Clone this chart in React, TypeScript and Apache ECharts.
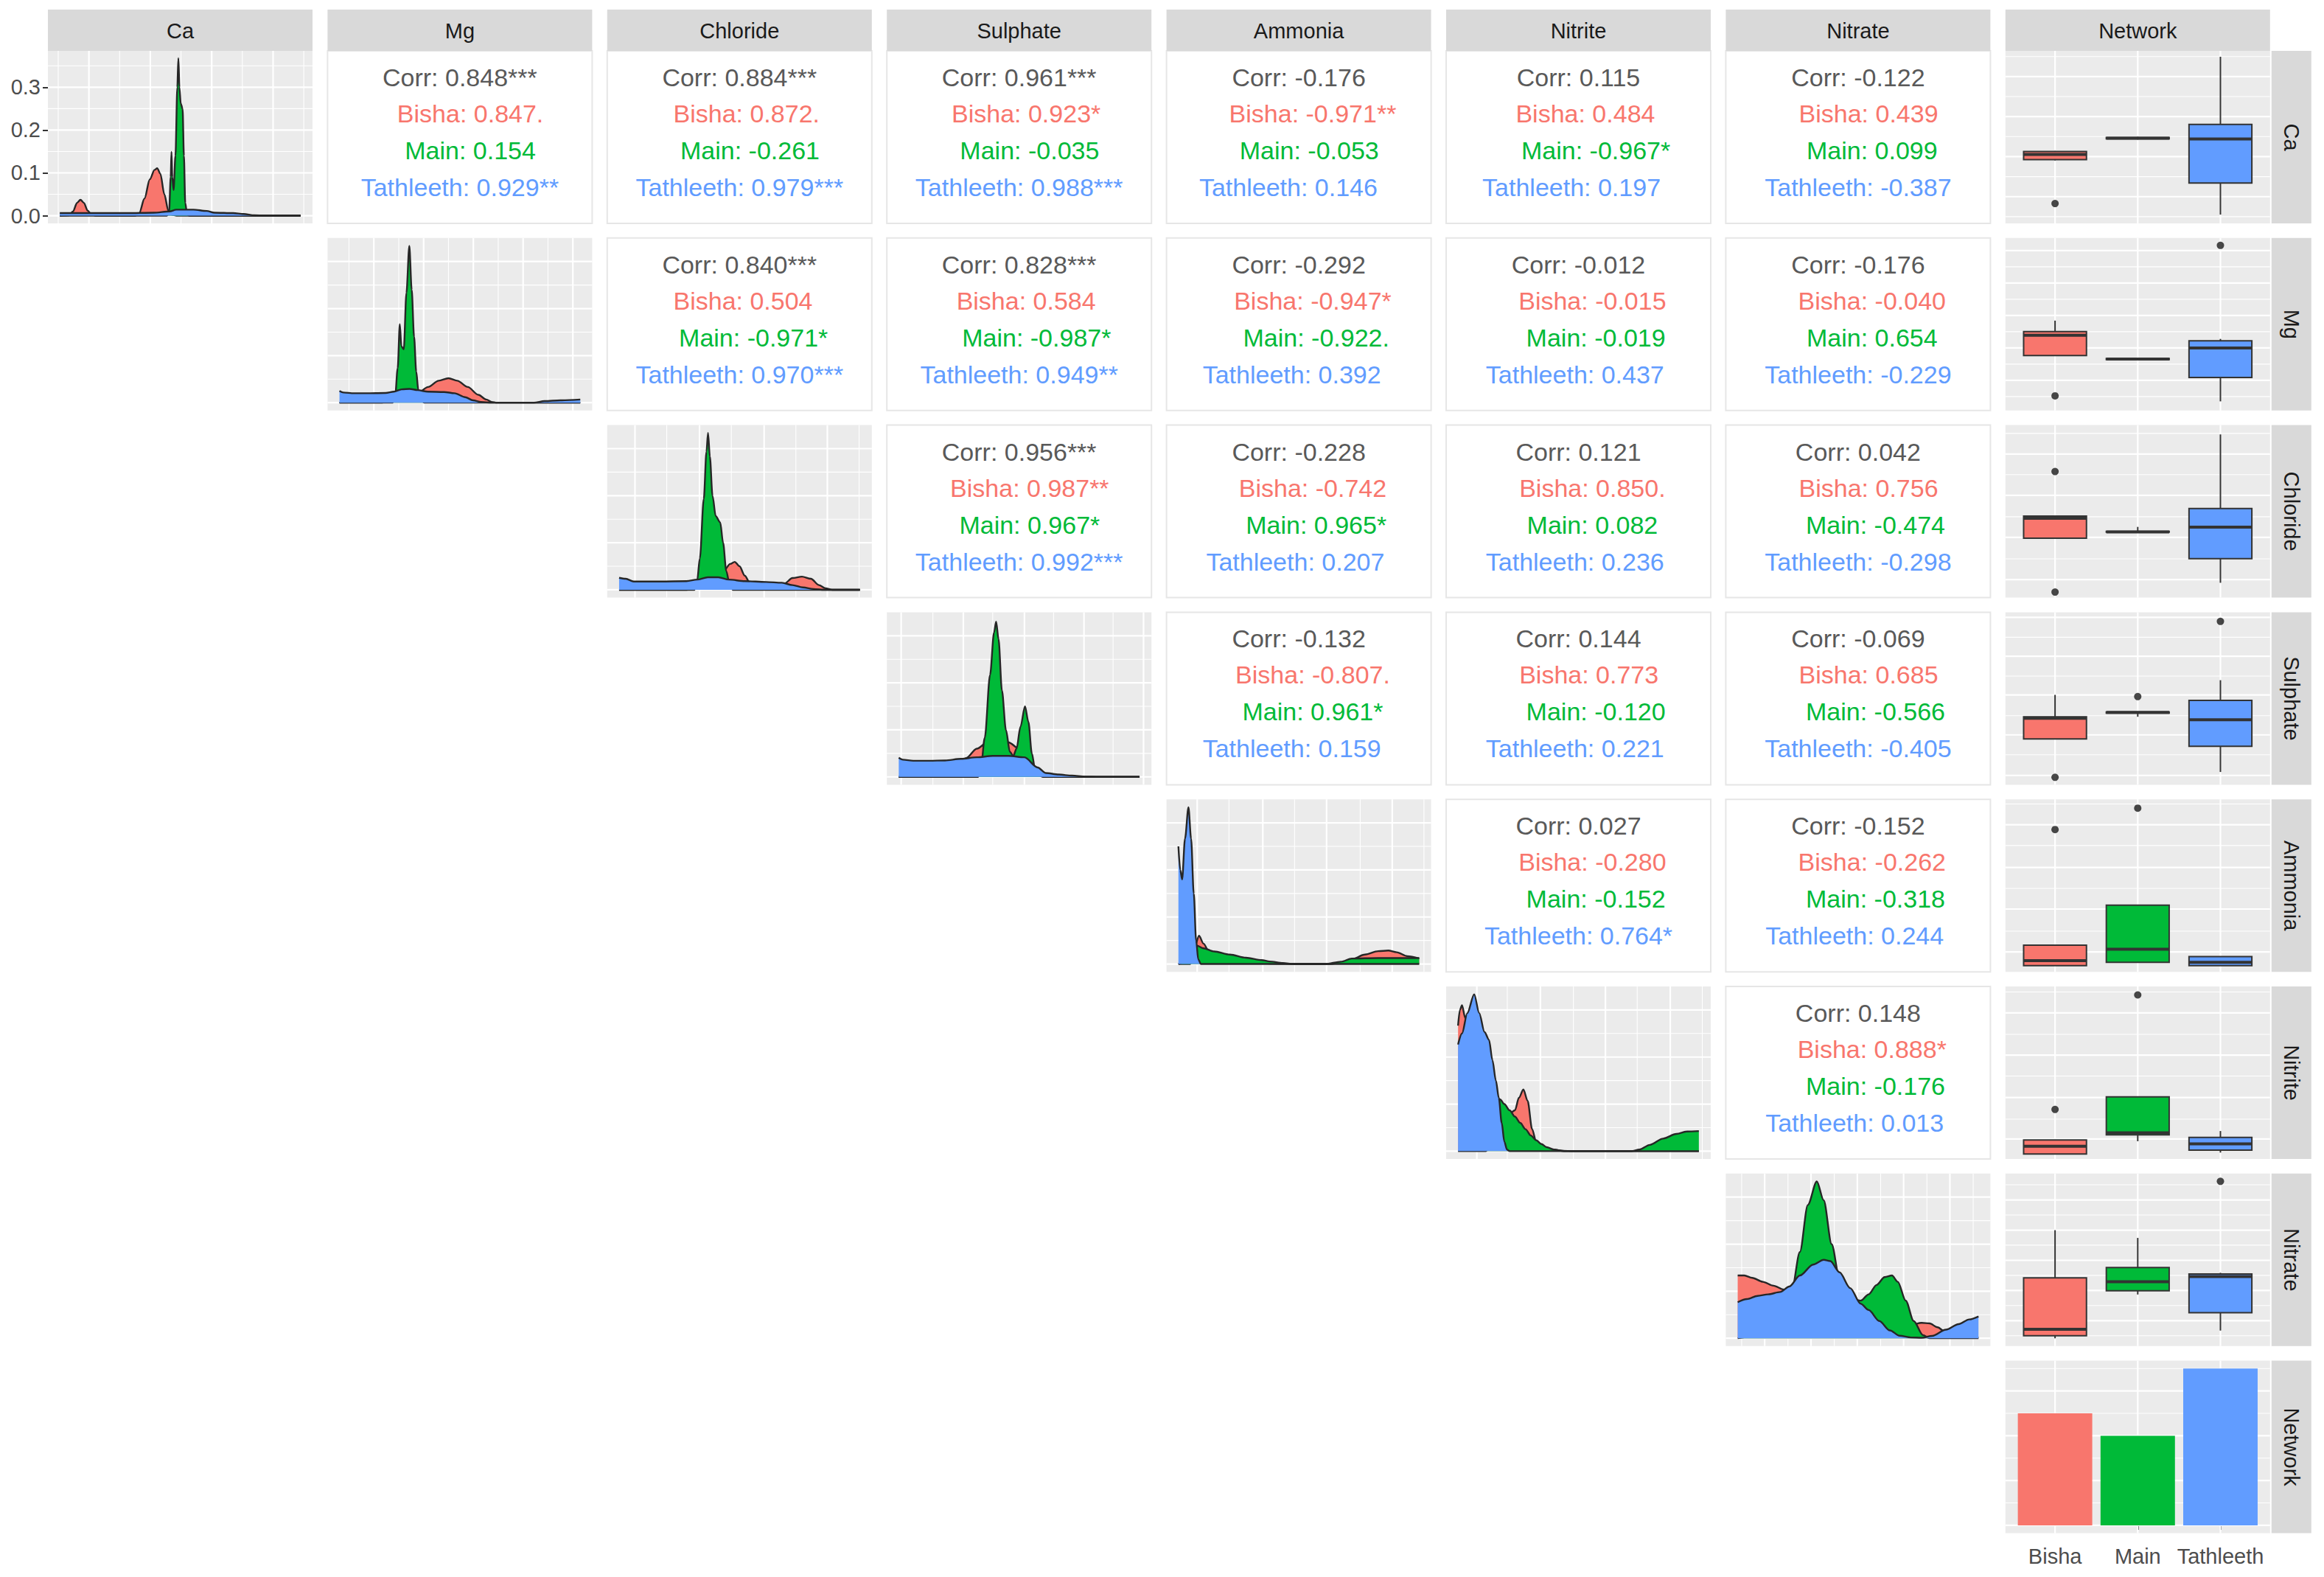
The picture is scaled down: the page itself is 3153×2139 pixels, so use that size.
import React, { useEffect, useRef } from "react";
import * as echarts from "echarts";

// ---------------- DATA ----------------
const variables = ["Ca", "Mg", "Chloride", "Sulphate", "Ammonia", "Nitrite", "Nitrate"];
const networkLabel = "Network";
const groups = ["Bisha", "Main", "Tathleeth"];
const groupColors = ["#F8766D", "#00BA38", "#619CFF"];
const groupCounts = [5, 4, 7];
const countTicks = { major: [0, 2, 4, 6], minor: [1, 3, 5, 7] };
const caDensityTicks = [0, 0.1, 0.2, 0.3];
const caDensityMinor = [0.05, 0.15, 0.25, 0.35];

// correlation labels: [overall, Bisha, Main, Tathleeth]; one list per row, columns to the right
const corrCa = [
  ["0.848***", "0.847.", "0.154", "0.929**"],
  ["0.884***", "0.872.", "-0.261", "0.979***"],
  ["0.961***", "0.923*", "-0.035", "0.988***"],
  ["-0.176", "-0.971**", "-0.053", "0.146"],
  ["0.115", "0.484", "-0.967*", "0.197"],
  ["-0.122", "0.439", "0.099", "-0.387"],
];
const corrMg = [
  ["0.840***", "0.504", "-0.971*", "0.970***"],
  ["0.828***", "0.584", "-0.987*", "0.949**"],
  ["-0.292", "-0.947*", "-0.922.", "0.392"],
  ["-0.012", "-0.015", "-0.019", "0.437"],
  ["-0.176", "-0.040", "0.654", "-0.229"],
];
const corrChloride = [
  ["0.956***", "0.987**", "0.967*", "0.992***"],
  ["-0.228", "-0.742", "0.965*", "0.207"],
  ["0.121", "0.850.", "0.082", "0.236"],
  ["0.042", "0.756", "-0.474", "-0.298"],
];
const corrSulphate = [
  ["-0.132", "-0.807.", "0.961*", "0.159"],
  ["0.144", "0.773", "-0.120", "0.221"],
  ["-0.069", "0.685", "-0.566", "-0.405"],
];
const corrAmmonia = [
  ["0.027", "-0.280", "-0.152", "0.764*"],
  ["-0.152", "-0.262", "-0.318", "0.244"],
];
const corrNitrite = [["0.148", "0.888*", "-0.176", "0.013"]];
const corrRows = [corrCa, corrMg, corrChloride, corrSulphate, corrAmmonia, corrNitrite];

// densities (x: % of variable range on panel, y: Ca in density units, others relative 0..100)
const densCaBisha = [[4.5,0],[8,0.001],[9.5,0.01],[11,0.03],[12.3,0.037],[13.6,0.03],[15,0.012],[16.5,0.002],[18,0],[33,0],[34.5,0.006],[36.5,0.04],[38.5,0.085],[40.3,0.107],[41.3,0.111],[42.5,0.098],[44,0.05],[45.5,0.012],[47,0.002],[49,0],[95.5,0]];
const densCaMain = [[4.5,0],[45,0],[45.8,0.01],[46.4,0.09],[46.7,0.149],[47.0,0.09],[47.5,0.06],[48.2,0.14],[48.9,0.3],[49.3,0.368],[49.7,0.3],[50.2,0.262],[50.9,0.25],[51.4,0.14],[51.9,0.03],[52.6,0.003],[53.5,0],[95.5,0]];
const densCaTathleeth = [[4.5,0.006],[15,0.006],[30,0.006],[40,0.007],[46,0.01],[48.5,0.014],[55,0.014],[60,0.011],[63,0.007],[70,0.006],[74,0.004],[78,0.001],[82,0],[95.5,0]];

const densMgBisha = [[4.5,0],[20,0],[26,1],[30,3],[34,6],[38,10],[42,14],[45.7,15.6],[49,14],[53,10],[57,5],[60,2],[62,0.5],[64,0],[95.5,0]];
const densMgMain = [[4.5,0],[24.5,0],[25.5,3],[26.5,22],[27.3,50],[27.9,36],[28.8,34],[29.8,70],[30.9,100],[31.8,72],[32.7,42],[33.5,20],[34.3,8],[35.3,2],[36.5,0],[95.5,0]];
const densMgTathleeth = [[4.5,7.5],[6,6.5],[10,6],[16,6],[22,6.2],[25,7],[28,8.5],[31,8.8],[34,8],[38,7],[44,6.8],[48,6],[52,3.5],[55,1.5],[58,0.4],[62,0],[78,0],[82,1],[88,1.5],[95.5,2]];

const densChlorideBisha = [[4.5,0],[30,0],[36,2],[40,6],[44,12],[46.5,16.5],[48.2,17.8],[50,15],[52,9],[54,4],[56,1.5],[60,0.5],[64,1],[67,4],[70,7.5],[73.6,8.4],[77,7],[80,3],[82.5,1],[85,0],[95.5,0]];
const densChlorideMain = [[4.5,0],[33,0],[34,6],[35,20],[36.5,58],[37.5,88],[38.1,100],[38.8,85],[39.8,60],[41,47],[42.7,43],[43.8,30],[45,12],[46.3,3],[47.5,0],[95.5,0]];
const densChlorideTathleeth = [[4.5,7.6],[7,7],[10,5.3],[20,5.3],[30,5.5],[34,6.5],[38,8],[42,8],[46,6.5],[52,5.5],[60,5],[66,4.5],[70,3],[74,1.5],[78,0.5],[82,0],[95.5,0]];

const densSulphateBisha = [[4.5,0],[18,0],[22,1.5],[26,6],[30,12],[34,18],[38,22],[42,23],[46,22],[50,18],[53,12],[56,5],[58.5,1.5],[61,0],[95.5,0]];
const densSulphateMain = [[4.5,0],[34.5,0],[35.5,5],[37,25],[39,65],[40.5,92],[41.3,99],[42.2,88],[43.5,55],[45,30],[46.5,16],[47.8,13.4],[49,18],[50.5,32],[52.2,45],[53.5,35],[54.8,15],[56,5],[57.5,1],[59,0],[95.5,0]];
const densSulphateTathleeth = [[4.5,12.2],[6,11],[10,10.3],[16,10.3],[22,10.5],[28,11.5],[34,12.5],[40,13.4],[46,13.4],[52,12.5],[57,6],[60,2.5],[65,1.5],[70,0.8],[75,0.2],[80,0],[95.5,0]];

const densAmmoniaBisha = [[4.5,0],[9,0],[10.5,10],[12.3,18],[14,13],[16,8],[18,5],[22,3],[30,1],[40,0.3],[50,0],[62,0],[66,1],[70,3],[75,6],[80,8.2],[83.8,8.6],[87,7.5],[91,5],[95.5,3.5]];
const densAmmoniaMain = [[4.5,0],[9,2],[11.5,11.7],[14,10],[18,8],[24,6],[30,4],[36,2.5],[39,1.6],[44,0.6],[48,0],[60,0],[66,1.5],[70,3.5],[80,3.8],[90,3.8],[95.5,3.8]];
const densAmmoniaTathleeth = [[4.5,75],[5.2,60],[5.9,54],[7,80],[8.3,100],[9.3,80],[10.3,45],[11.2,15],[12,3],[13,0],[95.5,0]];

const densNitriteBisha = [[4.5,80],[5.2,90],[6,93],[7.2,85],[8.5,70],[10,60],[13,50],[16,40],[19,33],[21.5,28],[24,24],[26,26],[27.5,34],[29.2,39.3],[30.8,32],[32.5,14],[34,6],[36,3],[40,1],[45,0],[95.5,0]];
const densNitriteMain = [[4.5,0],[15,0],[18,10],[20.4,33],[22,30],[24,26],[26,22],[28,18],[30,14],[32,10],[34,7],[36,4.5],[38,2.5],[40.7,1],[44,0.2],[48,0],[70,0],[73,1],[77,4],[82,8],[87,11],[91,12.5],[95.5,12.8]];
const densNitriteTathleeth = [[4.5,68],[6,75],[8,88],[10.6,100],[12.5,88],[14.5,76],[16.2,71],[17.5,58],[18.8,45],[19.9,34],[21,18],[22,6],[23,1],[24,0],[95.5,0]];

const densNitrateBisha = [[4.5,40],[7,40],[10,38.5],[14,36],[18,33.5],[22,31],[26,30],[30,29],[36,27],[42,24],[48,20],[54,16],[60,11],[66,8],[70,8.5],[74,9.8],[77,9.5],[80,7],[83,4],[86,2],[90,1],[95.5,0.5]];
const densNitrateMain = [[4.5,0],[16,2],[20,10],[22,18],[24.9,30],[28,55],[31,85],[34.4,100],[37,88],[40,60],[43,38],[45.3,29.5],[48,25],[51,24],[54,28],[57,34],[60,39],[62.8,40],[65,36],[68,24],[71,11],[74.5,2],[77,0],[95.5,0]];
const densNitrateTathleeth = [[4.5,23],[8,25],[12,27],[16,28],[20.6,29.5],[24,33],[28,40],[33,47],[37,50],[39.5,49.2],[43,42],[47,32],[51,22],[54,18],[58,11],[62,5],[65.7,1.6],[70,0.5],[74,0.3],[78,1.5],[83.2,5.5],[88,9],[92,12],[95.5,13.9]];

const densities = [
  [densCaBisha, densCaMain, densCaTathleeth],
  [densMgBisha, densMgMain, densMgTathleeth],
  [densChlorideBisha, densChlorideMain, densChlorideTathleeth],
  [densSulphateBisha, densSulphateMain, densSulphateTathleeth],
  [densAmmoniaBisha, densAmmoniaMain, densAmmoniaTathleeth],
  [densNitriteBisha, densNitriteMain, densNitriteTathleeth],
  [densNitrateBisha, densNitrateMain, densNitrateTathleeth],
];

// boxplots by Network (values in % of variable range): [min, q1, median, q3, max]
const boxCa = [[36.5, 37, 40, 41.7, 42], [48.6, 49, 49.4, 49.8, 50.2], [5.1, 23.4, 48.9, 57.4, 96.6]];
const outCa = [[1, 11.5]];
const boxMg = [[31.9, 31.9, 43.6, 45.7, 52.1], [29.3, 29.5, 29.8, 30.1, 30.3], [5.3, 19.1, 36.2, 40.4, 41.5]];
const outMg = [[1, 8.5], [3, 95.7]];
const boxChloride = [[34.4, 34.4, 46, 47.3, 47.3], [37.8, 38, 38.1, 38.4, 41], [8.6, 22.6, 40.9, 51.6, 94.6]];
const outChloride = [[1, 73.1], [1, 3.2]];
const boxSulphate = [[26.6, 26.6, 38.5, 39.4, 52.1], [39.4, 41.5, 41.9, 42.2, 42.2], [7.4, 22.3, 37.7, 48.9, 60.6]];
const outSulphate = [[1, 4.3], [2, 51.1], [3, 94.7]];
const boxAmmonia = [[3.6, 3.6, 6.5, 15.5, 15.5], [5.5, 5.5, 13.1, 38.7, 38.7], [3.6, 3.6, 5.5, 8.8, 8.8]];
const outAmmonia = [[1, 82.5], [2, 94.9]];
const boxNitrite = [[2.9, 2.9, 7.4, 11.0, 11.0], [10.3, 14.0, 15.2, 36.0, 36.0], [3.7, 5.1, 8.8, 12.5, 16.2]];
const outNitrite = [[1, 28.7], [2, 95.1]];
const boxNitrate = [[4.5, 6.0, 9.7, 39.6, 67.2], [29.9, 32.1, 37.3, 45.5, 62.7], [9.0, 19.4, 40.3, 41.8, 42.5]];
const outNitrate = [[3, 95.5]];
const boxes = [boxCa, boxMg, boxChloride, boxSulphate, boxAmmonia, boxNitrite, boxNitrate];
const outliers = [outCa, outMg, outChloride, outSulphate, outAmmonia, outNitrite, outNitrate];

// axis breaks of each variable (% of range): [major, minor]
const breaksCa = [[15.5, 38.7, 61.9, 85.1], [3.9, 27.1, 50.3, 73.5, 96.7]];
const breaksMg = [[17.5, 36.3, 55.1, 73.9, 92.7], [8.1, 26.9, 45.7, 64.5, 83.3]];
const breaksChloride = [[10.5, 34.9, 59.3, 83.2], [22.5, 46.9, 71.3, 95.2]];
const breaksSulphate = [[5.4, 28.9, 52, 74.5, 97], [17.4, 40, 63, 85.5]];
const breaksAmmonia = [[11.6, 36.4, 60.5, 85.3], [23.6, 48.4, 73.2, 97.3]];
const breaksNitrite = [[11.6, 35.6, 60.2, 84.7], [23.1, 48.1, 72.2, 96.8]];
const breaksNitrate = [[14.7, 32.2, 49.7, 67.2, 84.7], [6, 23.5, 41, 58.5, 76, 93.5]];
const breaks = [breaksCa, breaksMg, breaksChloride, breaksSulphate, breaksAmmonia, breaksNitrite, breaksNitrate];
const densityYBreaks = [[0, 30, 60, 90], [15, 45, 75]];

// ---------------- LAYOUT ----------------
const W = 3153, H = 2139;
const FONT = '"Liberation Sans", Arial, Helvetica, sans-serif';
const COL0 = 65, COLSTEP = 379.4, PW = 359;
const ROW0 = 69, ROWSTEP = 253.8, PH = 234;
const colX = (c: number) => COL0 + c * COLSTEP;
const rowY = (r: number) => ROW0 + r * ROWSTEP;
const TEXT_OFF = [36, 85, 135, 185];
const COR_FONT = 34;
const SPACE_W = 0.2778 * COR_FONT;

function buildOption() {
  const grid: any[] = [];
  const xAxis: any[] = [];
  const yAxis: any[] = [];
  const series: any[] = [];
  const graphic: any[] = [];
  const hidden = {
    axisLine: { show: false },
    axisTick: { show: false },
    axisLabel: { show: false },
    splitLine: { show: false },
  };

  function addPanel(c: number, r: number, xr: number[], yr: number[], xExtra: any = {}, yExtra: any = {}) {
    const idx = grid.length;
    grid.push({
      left: colX(c), top: rowY(r), width: PW, height: PH,
      show: true, backgroundColor: "#EBEBEB", borderWidth: 0,
      containLabel: false, outerBoundsMode: "none",
    });
    xAxis.push({ type: "value", gridIndex: idx, min: xr[0], max: xr[1], ...hidden, ...xExtra });
    yAxis.push({ type: "value", gridIndex: idx, min: yr[0], max: yr[1], ...hidden, ...yExtra });
    return idx;
  }

  function addGridLines(idx: number, xMaj: number[], xMin: number[], yMaj: number[], yMin: number[], xRef: number, yRef: number) {
    const data: number[][] = [];
    xMin.forEach((v) => data.push([v, 0, 0]));
    yMin.forEach((v) => data.push([v, 1, 0]));
    xMaj.forEach((v) => data.push([v, 0, 1]));
    yMaj.forEach((v) => data.push([v, 1, 1]));
    series.push({
      type: "custom", xAxisIndex: idx, yAxisIndex: idx, z: 1, silent: true,
      encode: { x: 0, y: 0 },
      data,
      renderItem: (params: any, api: any) => {
        const v = api.value(0), dir = api.value(1), maj = api.value(2);
        const cs = params.coordSys;
        const lw = maj ? 2.2 : 1.1;
        if (dir === 0) {
          const x = api.coord([v, yRef])[0];
          return { type: "line", shape: { x1: x, y1: cs.y, x2: x, y2: cs.y + cs.height }, style: { stroke: "#FFFFFF", lineWidth: lw } };
        }
        const y = api.coord([xRef, v])[1];
        return { type: "line", shape: { x1: cs.x, y1: y, x2: cs.x + cs.width, y2: y }, style: { stroke: "#FFFFFF", lineWidth: lw } };
      },
    });
  }

  // ---- diagonal density panels ----
  variables.forEach((_, i) => {
    const isCa = i === 0;
    const yr = isCa ? [-0.018, 0.385] : [-5, 105];
    const yExtra = isCa
      ? {
          axisTick: { show: true, customValues: caDensityTicks, length: 7, lineStyle: { color: "#333333", width: 2 } },
          axisLabel: {
            show: true, customValues: caDensityTicks, color: "#4D4D4D", fontSize: 29, fontFamily: FONT, margin: 10,
            showMinLabel: true, showMaxLabel: true,
            formatter: (v: number) => (Math.abs(Math.round(v * 10) - v * 10) < 1e-6 ? v.toFixed(1) : ""),
          },
        }
      : {};
    const idx = addPanel(i, i, [0, 100], yr, {}, yExtra);
    const yb = isCa ? [caDensityTicks, caDensityMinor] : densityYBreaks;
    addGridLines(idx, breaks[i][0], breaks[i][1], yb[0], yb[1], 0, yr[0]);
    densities[i].forEach((d, gi) => {
      series.push({
        type: "line", xAxisIndex: idx, yAxisIndex: idx, z: 2 + gi * 0.01, silent: true,
        data: d, smooth: 0.3, smoothMonotone: "x", symbol: "none", showSymbol: false,
        lineStyle: { color: "#262626", width: 2.4 },
        areaStyle: { color: groupColors[gi], opacity: 1, origin: "auto" },
      });
    });
  });

  // ---- Network boxplot panels ----
  variables.forEach((_, i) => {
    const idx = addPanel(7, i, [0.4, 3.6], [0, 100]);
    addGridLines(idx, [1, 2, 3], [], breaks[i][0], breaks[i][1], 1, 0);
    series.push({
      type: "custom", xAxisIndex: idx, yAxisIndex: idx, z: 3, silent: true,
      encode: { x: 0, y: [1, 2, 3, 4, 5] },
      data: boxes[i].map((b, gi) => [gi + 1, ...b, gi]),
      renderItem: (params: any, api: any) => {
        const x = api.value(0);
        const mn = api.value(1), q1 = api.value(2), md = api.value(3), q3 = api.value(4), mx = api.value(5);
        const ci = api.value(6);
        const pMax = api.coord([x, mx]), pQ3 = api.coord([x, q3]), pMed = api.coord([x, md]);
        const pQ1 = api.coord([x, q1]), pMin = api.coord([x, mn]);
        const hw = api.size([0.76, 0])[0] / 2;
        const stroke = "#333333";
        return {
          type: "group",
          children: [
            { type: "line", shape: { x1: pMax[0], y1: pMax[1], x2: pQ3[0], y2: pQ3[1] }, style: { stroke, lineWidth: 2 } },
            { type: "line", shape: { x1: pQ1[0], y1: pQ1[1], x2: pMin[0], y2: pMin[1] }, style: { stroke, lineWidth: 2 } },
            { type: "rect", shape: { x: pQ3[0] - hw, y: pQ3[1], width: 2 * hw, height: Math.max(pQ1[1] - pQ3[1], 0.5) }, style: { fill: groupColors[ci], stroke, lineWidth: 2 } },
            { type: "line", shape: { x1: pMed[0] - hw, y1: pMed[1], x2: pMed[0] + hw, y2: pMed[1] }, style: { stroke, lineWidth: 4 } },
          ],
        };
      },
    });
    series.push({
      type: "scatter", xAxisIndex: idx, yAxisIndex: idx, z: 4, silent: true,
      data: outliers[i], symbol: "circle", symbolSize: 10,
      itemStyle: { color: "#1A1A1A" },
    });
  });

  // ---- Network bar panel ----
  const barIdx = addPanel(7, 7, [0.4, 3.6], [-0.35, 7.35], {
    axisTick: { show: true, customValues: [1, 2, 3], length: 6, lineStyle: { color: "#333333", width: 2 } },
    axisLabel: {
      show: true, customValues: [1, 2, 3], color: "#4D4D4D", fontSize: 29, fontFamily: FONT, margin: 17,
      formatter: (v: number) => (Math.abs(v - Math.round(v)) < 1e-6 && v >= 1 && v <= 3 ? groups[Math.round(v) - 1] : ""),
    },
  });
  addGridLines(barIdx, [1, 2, 3], [], countTicks.major, countTicks.minor, 1, 0);
  series.push({
    type: "custom", xAxisIndex: barIdx, yAxisIndex: barIdx, z: 3, silent: true,
    encode: { x: 0, y: 1 },
    data: groupCounts.map((n, gi) => [gi + 1, n, gi]),
    renderItem: (params: any, api: any) => {
      const x = api.value(0), n = api.value(1), ci = api.value(2);
      const p0 = api.coord([x - 0.45, 0]);
      const p1 = api.coord([x + 0.45, n]);
      return { type: "rect", shape: { x: p0[0], y: p1[1], width: p1[0] - p0[0], height: p0[1] - p1[1] }, style: { fill: groupColors[ci] } };
    },
  });

  // ---- upper correlation panels ----
  const maxName = Math.max(...groups.map((g) => g.length));
  const txt = (text: string, x: number, y: number, fill: string, size: number, rotation = 0) => ({
    type: "text", x, y, rotation, silent: true,
    style: {
      text, fill, fontSize: size, fontFamily: FONT,
      align: "center", verticalAlign: "middle", textAlign: "center", textVerticalAlign: "middle",
    },
  });
  corrRows.forEach((rowArr, i) => {
    rowArr.forEach((vals, k) => {
      const j = i + 1 + k;
      const x0 = colX(j), y0 = rowY(i);
      graphic.push({ type: "rect", silent: true, shape: { x: x0, y: y0, width: PW, height: PH }, style: { fill: "#FFFFFF", stroke: "#E6E6E6", lineWidth: 2 } });
      const cx = x0 + PW / 2;
      graphic.push(txt(`Corr: ${vals[0]}`, cx, y0 + TEXT_OFF[0], "#595959", COR_FONT));
      const maxVal = Math.max(...vals.slice(1).map((s) => s.length));
      groups.forEach((g, gi) => {
        const lead = maxName - g.length;
        const trail = maxVal - vals[gi + 1].length;
        const shift = ((lead - trail) * SPACE_W) / 2;
        graphic.push(txt(`${g}: ${vals[gi + 1]}`, cx + shift, y0 + TEXT_OFF[gi + 1], groupColors[gi], COR_FONT));
      });
    });
  });

  // ---- strips ----
  const stripLabels = [...variables, networkLabel];
  stripLabels.forEach((lab, c) => {
    graphic.push({ type: "rect", silent: true, shape: { x: colX(c), y: 13, width: PW, height: 56 }, style: { fill: "#D9D9D9" } });
    graphic.push(txt(lab, colX(c) + PW / 2, 13 + 29, "#1A1A1A", 29));
  });
  const sx = colX(7) + PW + 2;
  stripLabels.forEach((lab, r) => {
    graphic.push({ type: "rect", silent: true, shape: { x: sx, y: rowY(r), width: 54, height: PH }, style: { fill: "#D9D9D9" } });
    graphic.push(txt(lab, sx + 27, rowY(r) + PH / 2, "#1A1A1A", 29, -Math.PI / 2));
  });

  return {
    animation: false,
    backgroundColor: "#FFFFFF",
    textStyle: { fontFamily: FONT },
    grid, xAxis, yAxis, series, graphic,
  };
}

export default function App() {
  const ref = useRef<HTMLDivElement>(null);
  useEffect(() => {
    if (!ref.current) return;
    const chart = echarts.init(ref.current, null, { renderer: "svg", width: W, height: H });
    chart.setOption(buildOption() as any);
    return () => chart.dispose();
  }, []);
  return (
    <div
      ref={ref}
      style={{ position: "absolute", left: 0, top: 0, width: W, height: H, background: "#FFFFFF" }}
    />
  );
}
